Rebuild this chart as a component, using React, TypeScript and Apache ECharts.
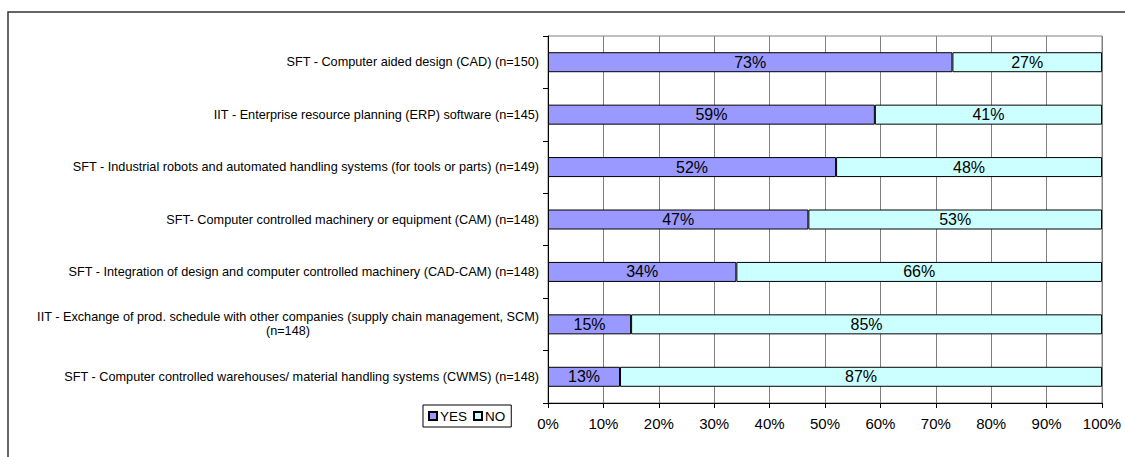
import React, { useEffect, useRef } from "react";
import * as echarts from "echarts";

const categories = [
  "SFT - Computer aided design (CAD) (n=150)",
  "IIT - Enterprise resource planning (ERP) software (n=145)",
  "SFT - Industrial robots and automated handling systems (for tools or parts) (n=149)",
  "SFT- Computer controlled machinery or equipment (CAM) (n=148)",
  "SFT - Integration of design and computer controlled machinery (CAD-CAM) (n=148)",
  "IIT - Exchange of prod. schedule with other companies (supply chain management, SCM)\n(n=148)",
  "SFT - Computer controlled warehouses/ material handling systems (CWMS) (n=148)",
];
const yesValues = [73, 59, 52, 47, 34, 15, 13];
const noValues = [27, 41, 48, 53, 66, 85, 87];
const xTicks = [0, 10, 20, 30, 40, 50, 60, 70, 80, 90, 100];

const FONT = '"Liberation Sans", Arial, sans-serif';
const CAT_SIZE = 12.7;

function measure(text: string): number {
  const c = document.createElement("canvas").getContext("2d");
  if (!c) return text.length * 6.5;
  c.font = `${CAT_SIZE}px "Liberation Sans"`;
  return c.measureText(text).width;
}

export default function App() {
  const ref = useRef<HTMLDivElement>(null);
  useEffect(() => {
    if (!ref.current) return;
    const chart = echarts.init(ref.current, null, { renderer: "svg" });
    chart.setOption({
      animation: false,
      backgroundColor: "#ffffff",
      textStyle: { fontFamily: FONT },
      graphic: [
        {
          type: "rect",
          shape: { x: 8, y: 12, width: 1140, height: 470 },
          style: { fill: "none", stroke: "#333333", lineWidth: 1.5 },
          silent: true,
          z: -1,
        },
      ],
      legend: {
        left: 423,
        top: 405,
        orient: "horizontal",
        data: ["YES", "NO"],
        icon: "rect",
        itemWidth: 8,
        itemHeight: 8,
        itemGap: 6,
        padding: [4, 6, 4, 5],
        borderColor: "#000000",
        borderWidth: 1,
        backgroundColor: "#ffffff",
        textStyle: { fontFamily: FONT, fontSize: 13.5, color: "#000", padding: [0, 0, 0, -2] },
      },
      grid: {
        left: 548,
        right: 23,
        top: 36,
        bottom: 54,
        show: true,
        borderColor: "#808080",
        borderWidth: 1,
      },
      xAxis: {
        type: "value",
        min: xTicks[0],
        max: xTicks[xTicks.length - 1],
        interval: 10,
        axisLine: { show: true, lineStyle: { color: "#000", width: 1 } },
        axisTick: { show: true, length: 5, lineStyle: { color: "#000" } },
        splitLine: { show: true, lineStyle: { color: "#808080", width: 1 } },
        axisLabel: {
          formatter: "{value}%",
          fontFamily: FONT,
          fontSize: 15,
          color: "#000",
          margin: 13,
        },
      },
      yAxis: {
        type: "category",
        inverse: true,
        data: categories,
        axisLine: { show: true, lineStyle: { color: "#000", width: 1 } },
        axisTick: { show: true, length: 5, alignWithLabel: false, lineStyle: { color: "#000" } },
        splitLine: { show: false },
        axisLabel: {
          fontFamily: FONT,
          fontSize: CAT_SIZE,
          color: "#000",
          margin: 9,
          lineHeight: 14,
          formatter: (v: string) => {
            const parts = v.split("\n");
            if (parts.length < 2) return v;
            return parts[0] + "\n{c|" + parts[1] + "}";
          },
          rich: {
            c: {
              fontFamily: FONT,
              fontSize: CAT_SIZE,
              color: "#000",
              lineHeight: 14,
              width: measure(categories[5].split("\n")[0]),
              align: "center",
            },
          },
        },
      },
      series: [
        {
          name: "YES",
          type: "bar",
          stack: "total",
          data: yesValues,
          barWidth: 20,
          itemStyle: { color: "#9999FF", borderColor: "#000000", borderWidth: 1 },
          label: {
            show: true,
            position: "inside",
            formatter: "{c}%",
            fontFamily: FONT,
            fontSize: 16,
            color: "#000",
          },
        },
        {
          name: "NO",
          type: "bar",
          stack: "total",
          data: noValues,
          barWidth: 20,
          itemStyle: { color: "#CCFFFF", borderColor: "#000000", borderWidth: 1 },
          label: {
            show: true,
            position: "inside",
            formatter: "{c}%",
            fontFamily: FONT,
            fontSize: 16,
            color: "#000",
          },
        },
      ],
    });
    return () => chart.dispose();
  }, []);
  return (
    <div
      ref={ref}
      style={{ position: "absolute", left: 0, top: 0, width: 1125, height: 457 }}
    />
  );
}
